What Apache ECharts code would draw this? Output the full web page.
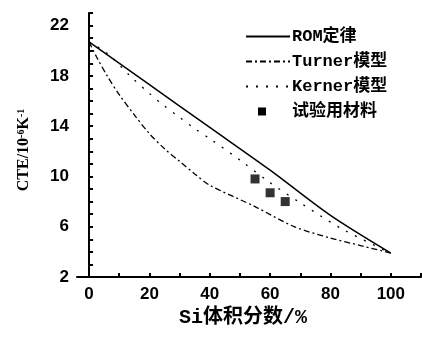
<!DOCTYPE html>
<html>
<head>
<meta charset="utf-8">
<script src="https://cdn.jsdelivr.net/npm/echarts@6/dist/echarts.min.js"></script>
<style>
  html, body { margin: 0; padding: 0; background: #fff; }
  #chart { width: 422px; height: 339px; }
</style>
</head>
<body>
<div id="chart"></div>
<script>
// values (Si volume fraction %, CTE 10^-6/K)
var romX = [0, 20, 40, 60, 80, 100];
var romY = [20.7, 17.3, 13.9, 10.5, 6.9, 3.9];

var turnerX = [0, 2.5, 6, 10, 15, 20, 25, 30, 35, 40, 55, 68, 80, 90, 100];
var turnerY = [20.7, 19.5, 18.0, 16.5, 14.9, 13.4, 12.2, 11.2, 10.2, 9.3, 7.6, 6.0, 5.1, 4.5, 3.9];

var kernerX = [0, 6, 14, 20, 25, 30, 35, 40, 50, 60, 70, 84, 100];
var kernerY = [20.7, 19.8, 17.9, 16.6, 15.6, 14.7, 13.8, 13.0, 11.3, 9.5, 7.9, 5.8, 3.9];

var expX = [55, 60, 65];
var expY = [9.8, 8.7, 8.0];

var xLabels = [0, 20, 40, 60, 80, 100];
var xTicks = [0, 10, 20, 30, 40, 50, 60, 70, 80, 90, 100, 110];
var yLabels = [2, 6, 10, 14, 18, 22];
var yTicks = [2, 3, 4, 5, 6, 7, 8, 9, 10, 11, 12, 13, 14, 15, 16, 17, 18, 19, 20, 21, 22, 23];

function pairs(xs, ys) {
    var out = [];
    for (var i = 0; i < xs.length; i++) {
        out.push([xs[i], ys[i]]);
    }
    return out;
}

var myChart = echarts.init(document.getElementById('chart'));
var labelFont = { color: '#000', fontFamily: 'Liberation Sans', fontWeight: 'bold', fontSize: 17 };
var cjkMono = 'Liberation Mono, Noto Sans CJK SC';

var option = {
    animation: false,
    backgroundColor: '#fff',
    grid: { left: 77, right: 1, top: 13, bottom: 62 },
    legend: {
        orient: 'vertical',
        left: 240,
        top: 23,
        itemWidth: 44,
        itemHeight: 10,
        itemGap: 8,
        itemStyle: { opacity: 0 },
        textStyle: {
            color: '#000',
            fontFamily: cjkMono,
            fontWeight: 'bold',
            fontSize: 17,
            padding: [0, 0, 0, -3]
        },
        data: [
            'ROM定律',
            'Turner模型',
            'Kerner模型',
            {
                name: '试验用材料',
                icon: 'path://M0,0L0.01,0M44,10L44.01,10M12,1h8v8h-8z',
                itemStyle: { opacity: 1, color: '#000' }
            }
        ]
    },
    xAxis: {
        type: 'value',
        min: -4,
        max: 110,
        name: 'Si体积分数/%',
        nameLocation: 'middle',
        nameGap: 31,
        nameTextStyle: {
            color: '#000',
            fontFamily: cjkMono,
            fontWeight: 'bold',
            fontSize: 20,
            padding: [0, 12, 0, 0]
        },
        axisLine: { lineStyle: { color: '#000', width: 2 } },
        axisTick: { inside: true, length: 4, customValues: xTicks, lineStyle: { color: '#000', width: 2 } },
        axisLabel: Object.assign({ customValues: xLabels, margin: 9 }, labelFont),
        splitLine: { show: false }
    },
    yAxis: {
        type: 'value',
        min: 2,
        max: 23,
        name: 'CTE/10{sup|-6}K{sup|-1}',
        nameLocation: 'middle',
        nameGap: 45,
        nameTextStyle: {
            color: '#000',
            fontFamily: 'Liberation Serif',
            fontWeight: 'bold',
            fontSize: 16,
            padding: [0, 10, 0, 0],
            rich: {
                sup: { fontFamily: 'Liberation Serif', fontWeight: 'bold', fontSize: 10, verticalAlign: 'top' }
            }
        },
        axisLine: { lineStyle: { color: '#000', width: 2 } },
        axisTick: { inside: true, length: 4, customValues: yTicks, lineStyle: { color: '#000', width: 2 } },
        axisLabel: Object.assign({ customValues: yLabels, margin: 8 }, labelFont),
        splitLine: { show: false }
    },
    series: [
        {
            name: 'ROM定律',
            type: 'line',
            symbol: 'none',
            smooth: 0.3,
            data: pairs(romX, romY),
            lineStyle: { color: '#000', width: 1.5 },
            itemStyle: { color: '#000' }
        },
        {
            name: 'Turner模型',
            type: 'line',
            symbol: 'none',
            smooth: 0.3,
            data: pairs(turnerX, turnerY),
            lineStyle: { color: '#000', width: 1.3, type: [6, 3, 2, 3] },
            itemStyle: { color: '#000' }
        },
        {
            name: 'Kerner模型',
            type: 'line',
            symbol: 'none',
            smooth: 0.3,
            data: pairs(kernerX, kernerY),
            lineStyle: { color: '#000', width: 1.3, type: [2, 8] },
            itemStyle: { color: '#000' }
        },
        {
            name: '试验用材料',
            type: 'scatter',
            symbol: 'rect',
            symbolSize: 9,
            data: pairs(expX, expY),
            itemStyle: { color: '#000' }
        }
    ]
};

if (option && typeof option === "object") {
    myChart.setOption(option, true);
}
</script>
</body>
</html>
